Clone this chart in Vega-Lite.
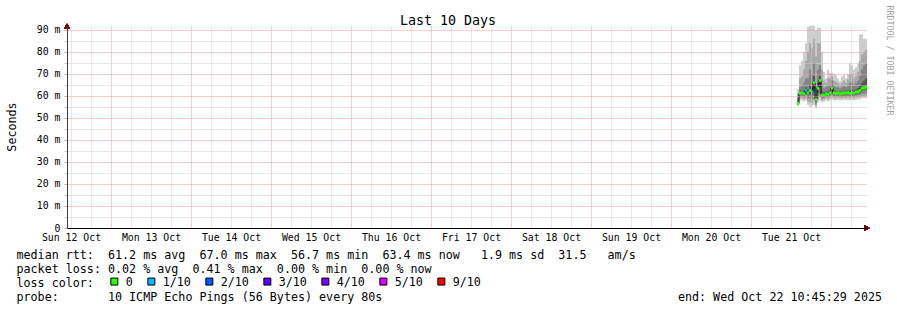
{
  "$schema": "https://vega.github.io/schema/vega-lite/v6.json",
  "width": 800,
  "height": 202,
  "autosize": {"type": "none"},
  "padding": {"left": 67, "top": 26, "right": 30, "bottom": 82},
  "background": "white",
  "config": {"view": {"stroke": null}, "font": "DejaVu Sans Mono"},
  "data": {"values": [
    {"t": "2025-10-21T14:06:00Z", "med": 56.7, "loss": "0", "lo1": 55.5, "lo2": 56, "lo3": 56.3, "lo4": 56.5, "hi4": 57.5, "hi3": 59, "hi2": 61, "hi1": 63},
    {"t": "2025-10-21T14:42:00Z", "med": 61.2, "loss": "0", "lo1": 58, "lo2": 59, "lo3": 59.8, "lo4": 60.5, "hi4": 62, "hi3": 64, "hi2": 68, "hi1": 74},
    {"t": "2025-10-21T15:18:00Z", "med": 61.5, "loss": "0", "lo1": 58, "lo2": 59, "lo3": 60, "lo4": 60.8, "hi4": 62.5, "hi3": 65, "hi2": 69, "hi1": 76},
    {"t": "2025-10-21T15:54:00Z", "med": 61, "loss": "0", "lo1": 57.5, "lo2": 58.5, "lo3": 59.5, "lo4": 60.3, "hi4": 62, "hi3": 66, "hi2": 72, "hi1": 80},
    {"t": "2025-10-21T16:30:00Z", "med": 62.6, "loss": "1/10", "lo1": 58, "lo2": 59, "lo3": 60.5, "lo4": 61.5, "hi4": 64, "hi3": 68, "hi2": 76, "hi1": 84},
    {"t": "2025-10-21T17:06:00Z", "med": 61.5, "loss": "0", "lo1": 56, "lo2": 57.5, "lo3": 59, "lo4": 60.5, "hi4": 63, "hi3": 68, "hi2": 80, "hi1": 91.5},
    {"t": "2025-10-21T17:42:00Z", "med": 62.5, "loss": "0", "lo1": 55, "lo2": 57, "lo3": 59, "lo4": 61, "hi4": 65, "hi3": 72, "hi2": 84, "hi1": 92},
    {"t": "2025-10-21T18:18:00Z", "med": 61.7, "loss": "1/10", "lo1": 55.5, "lo2": 57, "lo3": 58.5, "lo4": 60.5, "hi4": 64, "hi3": 70, "hi2": 82, "hi1": 92},
    {"t": "2025-10-21T18:54:00Z", "med": 66, "loss": "0", "lo1": 56, "lo2": 58, "lo3": 60, "lo4": 63, "hi4": 69, "hi3": 75, "hi2": 86, "hi1": 92},
    {"t": "2025-10-21T19:30:00Z", "med": 58.5, "loss": "0", "lo1": 54.5, "lo2": 55.5, "lo3": 56.5, "lo4": 57.5, "hi4": 60, "hi3": 64, "hi2": 78, "hi1": 90},
    {"t": "2025-10-21T20:06:00Z", "med": 63.5, "loss": "0", "lo1": 57, "lo2": 58.5, "lo3": 60, "lo4": 61.5, "hi4": 66, "hi3": 72, "hi2": 84, "hi1": 91},
    {"t": "2025-10-21T20:42:00Z", "med": 67, "loss": "0", "lo1": 58, "lo2": 59.5, "lo3": 61, "lo4": 64, "hi4": 69, "hi3": 74, "hi2": 84, "hi1": 91},
    {"t": "2025-10-21T21:18:00Z", "med": 60.5, "loss": "0", "lo1": 57, "lo2": 58, "lo3": 59, "lo4": 59.8, "hi4": 62, "hi3": 65, "hi2": 72, "hi1": 80},
    {"t": "2025-10-21T21:54:00Z", "med": 60.3, "loss": "0", "lo1": 57.5, "lo2": 58.5, "lo3": 59, "lo4": 59.6, "hi4": 61.5, "hi3": 63.5, "hi2": 67, "hi1": 71},
    {"t": "2025-10-21T22:30:00Z", "med": 61, "loss": "0", "lo1": 58, "lo2": 59, "lo3": 59.7, "lo4": 60.4, "hi4": 62, "hi3": 64, "hi2": 66, "hi1": 68},
    {"t": "2025-10-21T23:06:00Z", "med": 60.8, "loss": "0", "lo1": 57.5, "lo2": 58.5, "lo3": 59.5, "lo4": 60.2, "hi4": 62, "hi3": 64.5, "hi2": 68, "hi1": 72},
    {"t": "2025-10-21T23:42:00Z", "med": 61.5, "loss": "0", "lo1": 58, "lo2": 59, "lo3": 60, "lo4": 60.8, "hi4": 62.5, "hi3": 65, "hi2": 68, "hi1": 70.5},
    {"t": "2025-10-22T00:18:00Z", "med": 63.6, "loss": "0", "lo1": 58.5, "lo2": 59.5, "lo3": 60.5, "lo4": 62, "hi4": 65, "hi3": 67, "hi2": 69, "hi1": 70.5},
    {"t": "2025-10-22T00:54:00Z", "med": 61.4, "loss": "0", "lo1": 58, "lo2": 59, "lo3": 60, "lo4": 60.8, "hi4": 62.5, "hi3": 64.5, "hi2": 67, "hi1": 70},
    {"t": "2025-10-22T01:30:00Z", "med": 61.2, "loss": "0", "lo1": 58, "lo2": 59, "lo3": 59.8, "lo4": 60.6, "hi4": 62, "hi3": 64, "hi2": 66.5, "hi1": 69.5},
    {"t": "2025-10-22T02:06:00Z", "med": 61.5, "loss": "0", "lo1": 58.2, "lo2": 59.2, "lo3": 60, "lo4": 60.8, "hi4": 62.3, "hi3": 64, "hi2": 66, "hi1": 68},
    {"t": "2025-10-22T02:42:00Z", "med": 61, "loss": "0", "lo1": 58, "lo2": 59, "lo3": 59.7, "lo4": 60.4, "hi4": 61.8, "hi3": 63.5, "hi2": 65, "hi1": 66.7},
    {"t": "2025-10-22T03:18:00Z", "med": 61.2, "loss": "0", "lo1": 58, "lo2": 59, "lo3": 59.8, "lo4": 60.5, "hi4": 62, "hi3": 64, "hi2": 66, "hi1": 69},
    {"t": "2025-10-22T03:54:00Z", "med": 61.5, "loss": "0", "lo1": 58.3, "lo2": 59.2, "lo3": 60, "lo4": 60.8, "hi4": 62.5, "hi3": 64.5, "hi2": 67, "hi1": 69.5},
    {"t": "2025-10-22T04:30:00Z", "med": 61.3, "loss": "0", "lo1": 58, "lo2": 59, "lo3": 59.8, "lo4": 60.6, "hi4": 62.2, "hi3": 64, "hi2": 66, "hi1": 68},
    {"t": "2025-10-22T05:06:00Z", "med": 61.6, "loss": "0", "lo1": 58.2, "lo2": 59.2, "lo3": 60, "lo4": 60.9, "hi4": 62.6, "hi3": 65, "hi2": 67.5, "hi1": 70},
    {"t": "2025-10-22T05:42:00Z", "med": 61.2, "loss": "0", "lo1": 58, "lo2": 59, "lo3": 59.8, "lo4": 60.5, "hi4": 62.5, "hi3": 66, "hi2": 70, "hi1": 75},
    {"t": "2025-10-22T06:18:00Z", "med": 61.5, "loss": "0", "lo1": 58.2, "lo2": 59.2, "lo3": 60, "lo4": 60.8, "hi4": 62.8, "hi3": 66, "hi2": 70, "hi1": 74},
    {"t": "2025-10-22T06:54:00Z", "med": 61.3, "loss": "0", "lo1": 58, "lo2": 59, "lo3": 59.8, "lo4": 60.6, "hi4": 62.5, "hi3": 65, "hi2": 68, "hi1": 72},
    {"t": "2025-10-22T07:30:00Z", "med": 61.8, "loss": "0", "lo1": 58.3, "lo2": 59.3, "lo3": 60.2, "lo4": 61, "hi4": 63, "hi3": 66, "hi2": 69, "hi1": 73},
    {"t": "2025-10-22T08:06:00Z", "med": 62, "loss": "0", "lo1": 58.5, "lo2": 59.5, "lo3": 60.3, "lo4": 61.2, "hi4": 63.5, "hi3": 67, "hi2": 71, "hi1": 75},
    {"t": "2025-10-22T08:42:00Z", "med": 62.5, "loss": "0", "lo1": 58.5, "lo2": 59.5, "lo3": 60.5, "lo4": 61.5, "hi4": 64.5, "hi3": 69, "hi2": 76, "hi1": 88},
    {"t": "2025-10-22T09:18:00Z", "med": 63.5, "loss": "0", "lo1": 59, "lo2": 60, "lo3": 61, "lo4": 62.5, "hi4": 66, "hi3": 72, "hi2": 79, "hi1": 88},
    {"t": "2025-10-22T09:54:00Z", "med": 63.8, "loss": "0", "lo1": 59, "lo2": 60, "lo3": 61, "lo4": 62.8, "hi4": 67, "hi3": 74, "hi2": 80, "hi1": 86},
    {"t": "2025-10-22T10:30:00Z", "med": 64, "loss": "0", "lo1": 59, "lo2": 60, "lo3": 61.5, "lo4": 63, "hi4": 68, "hi3": 75, "hi2": 81, "hi1": 86}
  ]},
  "layer": [
    {
      "mark": {"type": "bar", "width": 2.1, "color": "#cdcdcd"},
      "encoding": {
        "x": {
          "field": "t", "type": "temporal",
          "scale": {"type": "utc", "nice": false, "padding": 0, "domain": [1760266080000, 1761130080000]},
          "axis": {
            "orient": "bottom",
            "values": [1760270400000, 1760292000000, 1760313600000, 1760335200000, 1760356800000, 1760378400000, 1760400000000, 1760421600000, 1760443200000, 1760464800000, 1760486400000, 1760508000000, 1760529600000, 1760551200000, 1760572800000, 1760594400000, 1760616000000, 1760637600000, 1760659200000, 1760680800000, 1760702400000, 1760724000000, 1760745600000, 1760767200000, 1760788800000, 1760810400000, 1760832000000, 1760853600000, 1760875200000, 1760896800000, 1760918400000, 1760940000000, 1760961600000, 1760983200000, 1761004800000, 1761026400000, 1761048000000, 1761069600000, 1761091200000, 1761112800000],
            "labelExpr": "utchours(datum.value) == 12 ? utcFormat(datum.value, '%a %d %b') : ''",
            "labelFont": "DejaVu Sans Mono", "labelFontSize": 9.85, "labelColor": "black",
            "labelBaseline": "alphabetic", "labelPadding": 12.5,
            "labelOverlap": false, "labelFlush": false, "labelBound": false,
            "ticks": false,
            "domain": true, "domainColor": "black", "domainWidth": 1,
            "grid": true,
            "gridColor": {"condition": {"test": "utchours(datum.value) == 0", "value": "#f09a9a"}, "value": "#cfcfcf"},
            "gridDash": [1, 1], "gridWidth": 1, "gridOpacity": 1,
            "title": [
              "median\u00a0rtt:\u00a0\u00a061.2\u00a0ms\u00a0avg\u00a0\u00a067.0\u00a0ms\u00a0max\u00a0\u00a056.7\u00a0ms\u00a0min\u00a0\u00a063.4\u00a0ms\u00a0now\u00a0\u00a0\u00a01.9\u00a0ms\u00a0sd\u00a0\u00a031.5\u00a0\u00a0\u00a0am/s",
              "packet\u00a0loss:\u00a00.02\u00a0%\u00a0avg\u00a0\u00a00.41\u00a0%\u00a0max\u00a0\u00a00.00\u00a0%\u00a0min\u00a0\u00a00.00\u00a0%\u00a0now"
            ],
            "titleFont": "DejaVu Sans Mono", "titleFontSize": 11.7, "titleFontWeight": "normal", "titleColor": "black",
            "titleAlign": "left", "titleBaseline": "alphabetic", "titleLineHeight": 14,
            "titleX": -51, "titleY": 30,
            "zindex": 1
          }
        },
        "y": {
          "field": "lo1", "type": "quantitative",
          "scale": {"domain": [0, 91.818], "nice": false, "zero": false, "padding": 0},
          "axis": {
            "orient": "left",
            "values": [0, 5, 10, 15, 20, 25, 30, 35, 40, 45, 50, 55, 60, 65, 70, 75, 80, 85, 90],
            "labelExpr": "datum.value % 10 == 0 ? (datum.value == 0 ? '0' : datum.value + ' m') : ''",
            "labelFont": "DejaVu Sans Mono", "labelFontSize": 9.85, "labelColor": "black",
            "labelBaseline": "middle", "labelPadding": 4,
            "labelOverlap": false, "labelFlush": false, "labelBound": false,
            "encode": {"labels": {"update": {"dx": {"signal": "datum.value == 0 ? -14 : 0"}}}},
            "ticks": true, "tickSize": 3, "tickWidth": 1,
            "tickColor": {"condition": {"test": "datum.value % 10 == 0", "value": "#f09a9a"}, "value": "#cfcfcf"},
            "domain": true, "domainColor": "#404040", "domainWidth": 1,
            "grid": true,
            "gridColor": {"condition": {"test": "datum.value % 10 == 0", "value": "#f09a9a"}, "value": "#cfcfcf"},
            "gridDash": [1, 1], "gridWidth": 1, "gridOpacity": 1,
            "title": "Seconds",
            "titleFont": "DejaVu Sans Mono", "titleFontSize": 11.7, "titleFontWeight": "normal", "titleColor": "black",
            "titleAngle": 270, "titleAlign": "center", "titleBaseline": "middle",
            "titleX": -56, "titleY": 100.5,
            "zindex": 1
          }
        },
        "y2": {"field": "hi1"}
      }
    },
    {
      "mark": {"type": "bar", "width": 2.1, "color": "#a9a9a9"},
      "encoding": {
        "x": {"field": "t", "type": "temporal", "axis": null},
        "y": {"field": "lo2", "type": "quantitative", "axis": null},
        "y2": {"field": "hi2"}
      }
    },
    {
      "mark": {"type": "bar", "width": 2.1, "color": "#848484"},
      "encoding": {
        "x": {"field": "t", "type": "temporal", "axis": null},
        "y": {"field": "lo3", "type": "quantitative", "axis": null},
        "y2": {"field": "hi3"}
      }
    },
    {
      "mark": {"type": "bar", "width": 2.1, "color": "#555555"},
      "encoding": {
        "x": {"field": "t", "type": "temporal", "axis": null},
        "y": {"field": "lo4", "type": "quantitative", "axis": null},
        "y2": {"field": "hi4"}
      }
    },
    {
      "mark": {"type": "line", "interpolate": "step", "color": "black", "strokeWidth": 1},
      "encoding": {
        "x": {"field": "t", "type": "temporal", "axis": null},
        "y": {"field": "med", "type": "quantitative", "axis": null}
      }
    },
    {
      "mark": {"type": "tick", "orient": "horizontal", "size": 2.1, "thickness": 3, "opacity": 1},
      "encoding": {
        "x": {"field": "t", "type": "temporal", "axis": null},
        "y": {"field": "med", "type": "quantitative", "axis": null},
        "color": {
          "field": "loss", "type": "nominal",
          "scale": {
            "domain": ["0", "1/10", "2/10", "3/10", "4/10", "5/10", "9/10"],
            "range": ["#26ff00", "#00b8ff", "#0059ff", "#5e00ff", "#7e00ff", "#dd00ff", "#ff0000"]
          },
          "legend": {
            "title": null,
            "orient": "none", "legendX": 41.5, "legendY": 249.5,
            "direction": "horizontal",
            "labelFont": "DejaVu Sans Mono", "labelFontSize": 11.7, "labelColor": "black",
            "labelOffset": 5.5, "columnPadding": 12,
            "symbolType": "square", "symbolSize": 49, "symbolStrokeColor": "black", "symbolStrokeWidth": 1, "symbolOpacity": 1,
            "padding": 0
          }
        }
      }
    },
    {
      "mark": {"type": "point", "shape": "triangle-right", "size": 30, "filled": true, "color": "#7f0000", "opacity": 1},
      "encoding": {
        "x": {"datum": 1761130080000, "type": "temporal", "axis": null},
        "y": {"datum": 0, "type": "quantitative", "axis": null}
      }
    },
    {
      "mark": {"type": "point", "shape": "triangle-up", "size": 30, "filled": true, "color": "#7f0000", "opacity": 1},
      "encoding": {
        "x": {"datum": 1760266080000, "type": "temporal", "axis": null},
        "y": {"datum": 91.818, "type": "quantitative", "axis": null}
      }
    },
    {
      "mark": {"type": "point", "opacity": 0},
      "encoding": {
        "x": {
          "field": "t", "type": "temporal",
          "axis": {
            "orient": "top", "labels": false, "ticks": false, "domain": false, "grid": false,
            "title": "Last 10 Days",
            "titleFont": "DejaVu Sans Mono", "titleFontSize": 13.3, "titleFontWeight": "normal", "titleColor": "black",
            "titleX": 380.5, "titleY": -1.5, "titleAlign": "center", "titleBaseline": "alphabetic"
          }
        },
        "y": {
          "field": "med", "type": "quantitative",
          "axis": {
            "orient": "right", "labels": false, "ticks": false, "domain": false, "grid": false,
            "title": "RRDTOOL / TOBI OETIKER",
            "titleFont": "DejaVu Sans Mono", "titleFontSize": 8.3, "titleFontWeight": "normal", "titleColor": "#a0a0a0",
            "titleAngle": 90, "titleX": 21, "titleY": 34, "titleAlign": "center", "titleBaseline": "middle"
          }
        }
      }
    },
    {
      "mark": {"type": "point", "opacity": 0},
      "encoding": {
        "x": {
          "field": "t", "type": "temporal",
          "axis": {
            "orient": "top", "labels": false, "ticks": false, "domain": false, "grid": false,
            "title": "loss\u00a0color:",
            "titleFont": "DejaVu Sans Mono", "titleFontSize": 11.7, "titleFontWeight": "normal", "titleColor": "black",
            "titleX": -51, "titleY": 260, "titleAlign": "left", "titleBaseline": "alphabetic"
          }
        },
        "y": {
          "field": "med", "type": "quantitative",
          "axis": {
            "orient": "left", "labels": false, "ticks": false, "domain": false, "grid": false,
            "title": "probe:\u00a0\u00a0\u00a0\u00a0\u00a0\u00a0\u00a010\u00a0ICMP\u00a0Echo\u00a0Pings\u00a0(56\u00a0Bytes)\u00a0every\u00a080s\u00a0\u00a0\u00a0\u00a0\u00a0\u00a0\u00a0\u00a0\u00a0\u00a0\u00a0\u00a0\u00a0\u00a0\u00a0\u00a0\u00a0\u00a0\u00a0\u00a0\u00a0\u00a0\u00a0\u00a0\u00a0\u00a0\u00a0\u00a0\u00a0\u00a0\u00a0\u00a0\u00a0\u00a0\u00a0\u00a0\u00a0\u00a0\u00a0\u00a0\u00a0\u00a0end:\u00a0Wed\u00a0Oct\u00a022\u00a010:45:29\u00a02025",
            "titleFont": "DejaVu Sans Mono", "titleFontSize": 11.7, "titleFontWeight": "normal", "titleColor": "black",
            "titleAngle": 0, "titleX": -51, "titleY": 274, "titleAlign": "left", "titleBaseline": "alphabetic"
          }
        }
      }
    }
  ],
  "resolve": {"axis": {"x": "independent", "y": "independent"}}
}
